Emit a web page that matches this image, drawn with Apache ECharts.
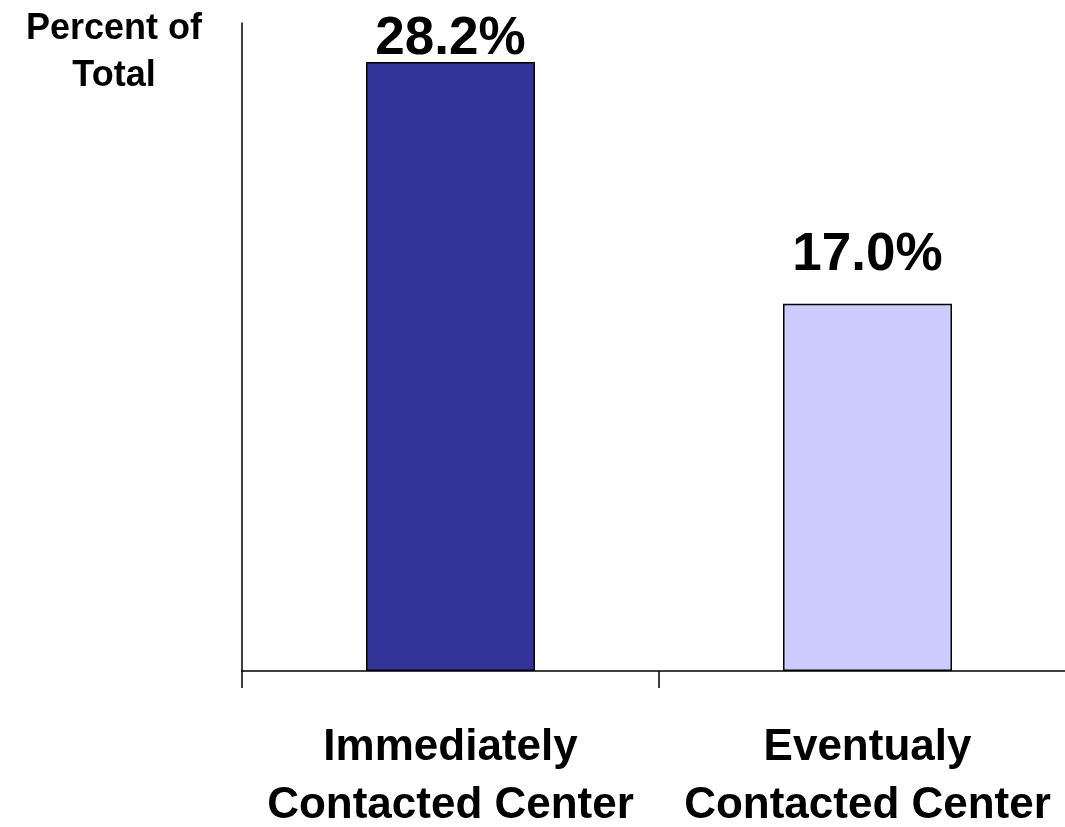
<!DOCTYPE html>
<html>
<head>
<meta charset="utf-8">
<script src="https://cdn.jsdelivr.net/npm/echarts@6/dist/echarts.min.js"></script>
<style>
html,body{margin:0;padding:0;background:#fff;}
#chart{width:1065px;height:827px;}
</style>
</head>
<body>
<div id="chart"></div>
<script>
const categories = ['Immediately\nContacted Center', 'Eventualy\nContacted Center'];
const values = [28.2, 17.0];
const barColors = ['#333399', '#CCCCFF'];
const labelGaps = [-4, 22];
const yAxisTitle = 'Percent of\nTotal';

const FONT = '"Liberation Sans", Arial, sans-serif';
const chart = echarts.init(document.getElementById('chart'), null, {renderer: 'canvas'});
chart.setOption({
  animation: false,
  backgroundColor: '#ffffff',
  title: {
    text: yAxisTitle,
    left: 109,
    top: 1,
    textAlign: 'center',
    textStyle: {fontFamily: FONT, fontSize: 36, fontWeight: 'bold', color: '#000', lineHeight: 47}
  },
  grid: {left: 242, top: 23, width: 834, height: 648, containLabel: false, outerBoundsMode: 'none'},
  xAxis: {
    type: 'category',
    data: categories,
    boundaryGap: true,
    axisLine: {show: true, lineStyle: {color: '#000', width: 1.5}},
    axisTick: {show: true, length: 17, lineStyle: {color: '#000', width: 1.5}},
    axisLabel: {
      fontFamily: FONT, fontSize: 44, fontWeight: 'bold', color: '#000',
      lineHeight: 58, margin: 48, interval: 0
    }
  },
  yAxis: {
    type: 'value',
    min: 0, max: 30,
    axisLine: {show: true, lineStyle: {color: '#000', width: 1.5}},
    axisTick: {show: false},
    axisLabel: {show: false},
    splitLine: {show: false}
  },
  series: [{
    type: 'bar',
    barWidth: 169,
    data: values.map((v, i) => ({
      value: v,
      itemStyle: {color: barColors[i]},
      label: {distance: labelGaps[i]}
    })),
    itemStyle: {borderColor: '#000', borderWidth: 1.5},
    label: {
      show: true, position: 'top',
      fontFamily: FONT, fontSize: 53, fontWeight: 'bold', color: '#000',
      formatter: p => p.value.toFixed(1) + '%'
    }
  }]
});
</script>
</body>
</html>
